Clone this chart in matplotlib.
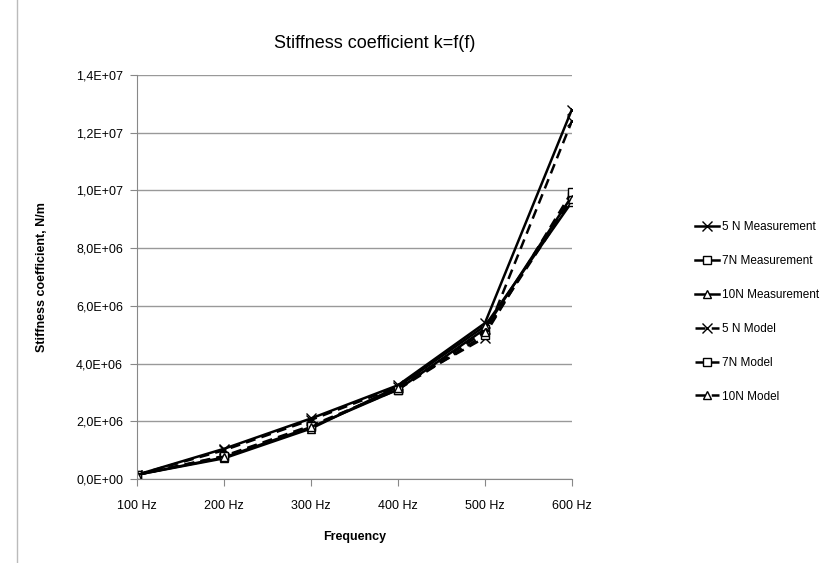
import matplotlib.pyplot as plt
import numpy as np
from matplotlib.ticker import FuncFormatter

plt.rcParams['font.family'] = ['Liberation Sans', 'DejaVu Sans']

freqs = ['100 Hz', '200 Hz', '300 Hz', '400 Hz', '500 Hz', '600 Hz']
meas_5n = [1.5e5, 1.05e6, 2.1e6, 3.25e6, 5.4e6, 1.28e7]
meas_7n = [1.5e5, 0.75e6, 1.8e6, 3.1e6, 5.2e6, 9.8e6]
meas_10n = [1.5e5, 0.72e6, 1.75e6, 3.2e6, 5.3e6, 9.6e6]
model_5n = [1.5e5, 1.0e6, 2.05e6, 3.2e6, 4.9e6, 1.24e7]
model_7n = [1.5e5, 0.8e6, 1.85e6, 3.1e6, 5.0e6, 9.95e6]
model_10n = [1.5e5, 0.78e6, 1.8e6, 3.15e6, 5.1e6, 9.7e6]


def sci_comma(v, pos):
    if v == 0:
        return '0,0E+00'
    e = int(np.floor(np.log10(v)))
    return ('%.1fE+%02d' % (v / 10 ** e, e)).replace('.', ',')


fig = plt.figure(figsize=(8.3, 5.63), dpi=100)
ax = fig.add_axes([0.165, 0.149, 0.524, 0.718])
x = np.arange(len(freqs))

dash = (0, (4, 2.5))
ax.plot(x, meas_5n, color='k', lw=1.8, marker='x', ms=7, label='5 N Measurement')
ax.plot(x, meas_7n, color='k', lw=1.8, marker='s', ms=5.5, mfc='white', mew=1, label='7N Measurement')
ax.plot(x, meas_10n, color='k', lw=1.8, marker='^', ms=5.5, mfc='white', mew=1, label='10N Measurement')
ax.plot(x, model_5n, color='k', lw=1.8, ls=dash, marker='x', ms=7, label='5 N Model')
ax.plot(x, model_7n, color='k', lw=1.8, ls=dash, marker='s', ms=5.5, mfc='white', mew=1, label='7N Model')
ax.plot(x, model_10n, color='k', lw=1.8, ls=dash, marker='^', ms=5.5, mfc='white', mew=1, label='10N Model')

ax.set_xlim(0, 5)
ax.set_ylim(0, 1.4e7)
ax.set_xticks(x)
ax.set_xticklabels(freqs, fontsize=9)
ax.set_yticks(np.arange(0, 1.41e7, 2e6))
ax.yaxis.set_major_formatter(FuncFormatter(sci_comma))
ax.tick_params(axis='y', labelsize=9, length=5, color='#888888', pad=5)
ax.tick_params(axis='x', length=5, color='#888888', pad=10)
ax.grid(axis='y', color='#999999', lw=1)
ax.set_axisbelow(True)
for s in ['top', 'right']:
    ax.spines[s].set_visible(False)
ax.spines['left'].set_color('#888888')
ax.spines['bottom'].set_color('#888888')

ax.set_xlabel('Frequency', fontsize=9, fontweight='bold', labelpad=14)
ax.set_ylabel('Stiffness coefficient, N/m', fontsize=9, fontweight='bold', labelpad=20)
fig.text(0.452, 0.915, 'Stiffness coefficient k=f(f)', ha='center', fontsize=13)

ax.legend(loc='center left', bbox_to_anchor=(0.832, 0.446), bbox_transform=fig.transFigure,
          frameon=False, fontsize=8.5, handlelength=2.0, labelspacing=1.85, handletextpad=0.3,
          borderaxespad=0)

line = plt.Line2D([0.021, 0.021], [0.0, 1.0], transform=fig.transFigure, color='#bbbbbb', lw=1)
fig.add_artist(line)

fig.savefig('out.png', dpi=100)
